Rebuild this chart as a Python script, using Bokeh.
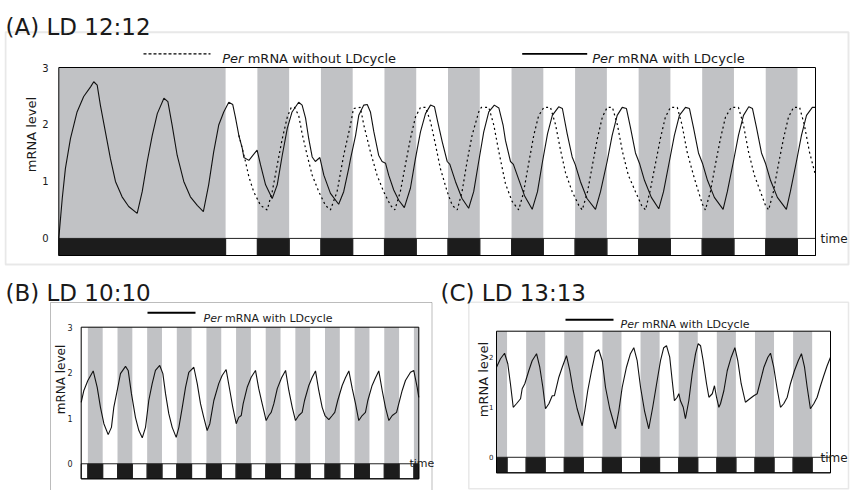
from bokeh.plotting import figure
from bokeh.models import Range1d, FixedTicker, BoxAnnotation, Label, Arrow
from bokeh.layouts import column, row
from bokeh.embed import file_html
from bokeh.resources import INLINE

# ---------------- data ----------------
# Panel A: LD 12:12 (time in hours)
A_t_with = [0, 1.3, 2.5, 4.4, 6.9, 9.4, 12.0, 13.2, 14.5, 15.7, 17.6, 19.5, 21.4, 23.9, 26.4, 29.6,
            31.5, 33.4, 35.3, 37.2, 39.7, 41.2, 42.8, 44.7, 47.2, 49.7, 52.3, 54.6, 56.6, 58.5, 60.4,
            62.3, 64.2, 65.7, 66.7, 68.0, 69.3, 69.9, 71.8, 74.9, 76.2, 78.1, 80.6, 82.5, 84.4, 86.3,
            88.1, 90.6, 91.9, 93.2, 94.4, 95.7, 96.9, 98.6, 100.1, 102.6, 105.7, 107.6, 109.5, 110.2,
            112.1, 113.3, 115.2, 116.5, 117.7, 119.0, 120.8, 122.1, 123.4, 124.6, 126.5, 128.4, 130.5,
            132.8, 134.7, 136.6, 138.5, 140.4, 141.9, 143.1, 144.8, 146.7, 147.7, 149.8, 152.3, 154.8,
            156.7, 158.6, 160.5, 162.4, 164.5, 166.2, 167.8, 168.7, 170.6, 171.7, 173.6, 175.9, 178.8,
            180.8, 182.7, 184.6, 186.4, 188.8, 190.2, 192.0, 193.9, 195.1, 197.0, 199.5, 202.7, 204.6,
            207.1, 209.0, 210.9, 212.8, 214.4, 215.9, 217.8, 219.3, 221.2, 223.8, 226.6, 228.4, 230.6,
            232.5, 234.4, 236.7, 238.2, 239.7, 241.6, 243.1, 245.0, 247.6, 250.9, 252.5, 254.8, 256.7,
            258.6, 260.6, 262.0, 263.5, 265.4, 266.9, 268.8, 271.4, 274.8, 276.3, 278.6, 280.5, 282.4,
            284.6, 285.8]
A_v_with = [0.00, 0.70, 1.23, 1.75, 2.22, 2.49, 2.66, 2.75, 2.69, 2.34, 1.87, 1.40, 1.00, 0.73, 0.56, 0.44,
            0.82, 1.35, 1.81, 2.19, 2.46, 2.40, 1.99, 1.46, 1.00, 0.73, 0.58, 0.47, 0.94, 1.52, 1.99,
            2.22, 2.39, 2.35, 2.13, 1.81, 1.58, 1.42, 1.37, 1.55, 1.29, 0.94, 0.70, 0.94, 1.46, 1.93,
            2.22, 2.39, 2.34, 2.11, 1.75, 1.43, 1.35, 1.42, 1.11, 0.79, 0.60, 0.82, 1.23, 1.40,
            1.81, 2.16, 2.34, 2.35, 2.22, 1.87, 1.46, 1.35, 1.32, 1.11, 0.85, 0.67, 0.54,
            0.88, 1.40, 1.87, 2.19, 2.34, 2.31, 2.05, 1.70, 1.35, 1.30, 1.00, 0.70, 0.53,
            0.82, 1.35, 1.87, 2.22, 2.34, 2.29, 1.99, 1.72, 1.35, 1.30, 1.05, 0.75, 0.51,
            0.82, 1.35, 1.84, 2.16, 2.31, 2.28, 1.84, 1.43, 1.29, 1.00, 0.70, 0.51, 0.82,
            1.35, 1.81, 2.16, 2.30, 2.28, 1.95, 1.50, 1.32, 1.02, 0.72, 0.52, 0.82, 1.35,
            1.81, 2.16, 2.30, 2.28, 1.95, 1.50, 1.32, 1.02, 0.72, 0.51, 0.82, 1.35, 1.81,
            2.16, 2.31, 2.28, 1.95, 1.50, 1.32, 1.02, 0.72, 0.51, 0.82, 1.35, 1.81, 2.16,
            2.30, 2.30]
A_t_without = [68.0, 69.3, 70.5, 71.8, 73.6, 76.2, 78.7, 80.6, 82.5, 84.4, 86.3, 87.8, 89.0, 90.6, 91.9,
               93.8, 95.7, 98.2, 100.7, 102.6, 105.1, 107.6, 110.2, 111.3, 113.9, 115.2, 117.7, 120.2,
               122.7, 125.3, 126.9, 129.0, 130.9, 132.8, 134.7, 136.6, 138.5, 140.4, 142.3, 144.1,
               146.7, 148.6, 150.5, 152.3, 154.2, 156.1, 158.6, 159.6, 162.4, 164.3, 166.2, 168.7,
               171.2, 173.7, 175.5, 177.4, 179.4, 181.2, 183.2, 185.7, 187.6, 189.5, 191.4, 193.9,
               196.4, 197.7, 199.7, 201.6, 203.4, 205.3, 207.1, 209.1, 211.0, 212.9, 215.1, 217.8,
               220.1, 221.6, 223.4, 225.3, 227.2, 229.1, 231.0, 233.6, 235.4, 237.3, 239.7, 241.6,
               243.1, 244.2, 246.1, 248.0, 249.9, 251.8, 254.0, 256.7, 258.6, 260.5, 262.7, 265.0,
               266.9, 268.1, 269.9, 271.8, 273.7, 275.6, 277.5, 279.8, 281.6, 283.5, 285.8]
A_v_without = [1.81, 1.58, 1.35, 1.08, 0.82, 0.58, 0.50, 0.82, 1.29, 1.75, 2.13, 2.30, 2.30, 2.16, 1.84,
               1.46, 1.11, 0.82, 0.58, 0.50, 0.82, 1.46, 2.00, 2.28, 2.30, 1.99, 1.52, 1.11,
               0.82, 0.58, 0.50, 0.82, 1.29, 1.75, 2.13, 2.30, 2.30, 2.05, 1.64, 1.23,
               0.82, 0.58, 0.50, 0.82, 1.35, 1.81, 2.22, 2.30, 2.30, 1.99, 1.52, 0.96,
               0.65, 0.50, 0.80, 1.30, 1.81, 2.15, 2.30, 2.30, 2.00, 1.55, 1.15, 0.82,
               0.58, 0.50, 0.82, 1.30, 1.75, 2.13, 2.30, 2.30, 1.99, 1.52, 1.11, 0.82,
               0.58, 0.50, 0.85, 1.30, 1.75, 2.13, 2.30, 2.30, 1.99, 1.52, 1.11, 0.82,
               0.60, 0.50, 0.82, 1.30, 1.75, 2.13, 2.30, 2.30, 1.99, 1.52, 1.11, 0.82,
               0.58, 0.50, 0.82, 1.30, 1.75, 2.13, 2.30, 2.30, 1.99, 1.52, 1.11]
A_dark_start = [0, 75, 99, 123, 147, 171, 195, 219, 243, 267]
A_dark_end = [63, 87, 111, 135, 159, 183, 207, 231, 255, 279]
A_light_start = [63, 87, 111, 135, 159, 183, 207, 231, 255, 279]
A_light_end = [75, 99, 123, 147, 171, 195, 219, 243, 267, 285.8]
A_time_max = 285.8
A_ymin, A_ymax = -0.3, 3.0
A_yticks = [0, 1, 2, 3]

# Panel B: LD 10:10
B_t = [0, 1.8, 4.5, 8.1, 10.8, 13.0, 15.3, 18.2, 20.4, 22.0, 24.3, 26.5, 29.9, 31.7, 33.9, 36.6, 38.9,
       41.2, 43.4, 45.6, 47.9, 50.1, 53.0, 55.1, 56.9, 59.1, 61.4, 64.1, 65.9, 68.2, 70.4, 72.6, 76.0,
       78.3, 80.5, 82.7, 85.0, 86.8, 89.5, 92.8, 95.1, 97.8, 100.3, 102.3, 104.6, 106.3, 108.0, 109.3,
       112.0, 114.7, 117.6, 119.8, 122.1, 124.8, 126.6, 128.2, 130.0, 132.3, 135.2, 137.9, 140.1,
       142.4, 144.6, 146.8, 149.1, 150.7, 153.6, 155.9, 158.1, 160.3, 162.6, 164.6, 167.1, 169.4,
       171.1, 173.1, 176.1, 178.3, 180.6, 182.9, 185.1, 187.3, 189.6, 191.8, 193.4, 196.3, 198.6,
       200.8, 203.1, 205.3, 207.6, 209.9, 212.8, 214.3, 216.6, 218.8, 222.2, 224.4, 226.7, 227.8]
B_v = [1.35, 1.61, 1.83, 2.04, 1.68, 1.24, 0.88, 0.64, 0.80, 1.24, 1.61, 1.98, 2.14, 2.05, 1.54, 1.02, 0.73,
       0.57, 0.80, 1.39, 1.76, 2.05, 2.16, 1.98, 1.54, 1.10, 0.80, 0.58, 0.80, 1.24, 1.68, 2.01, 2.12,
       1.76, 1.32, 1.02, 0.73, 0.88, 1.39, 1.76, 1.94, 2.07, 1.61, 1.24, 0.88, 1.02, 1.06, 1.32,
       1.68, 1.90, 2.05, 1.65, 1.32, 0.95, 1.06, 1.13, 1.32, 1.65, 1.89, 2.05, 1.61,
       1.24, 0.95, 1.06, 1.13, 1.39, 1.72, 1.90, 2.04, 1.61, 1.24, 1.05, 0.97, 1.06,
       1.13, 1.39, 1.72, 1.89, 2.04, 1.65, 1.32, 0.95, 1.06, 1.13, 1.39, 1.72, 1.89,
       2.04, 1.61, 1.24, 0.95, 1.06, 1.13, 1.32, 1.61, 1.83, 2.01, 2.05, 1.68, 1.46]
B_dark_start = [4.5, 24.5, 44.5, 64.5, 84.5, 104.5, 124.5, 144.5, 164.5, 184.5, 204.5, 224.5]
B_dark_end = [14.5, 34.5, 54.5, 74.5, 94.5, 114.5, 134.5, 154.5, 174.5, 194.5, 214.5, 227.8]
B_light_start = [0, 14.5, 34.5, 54.5, 74.5, 94.5, 114.5, 134.5, 154.5, 174.5, 194.5, 214.5]
B_light_end = [4.5, 24.5, 44.5, 64.5, 84.5, 104.5, 124.5, 144.5, 164.5, 184.5, 204.5, 224.5]
B_time_max = 227.8
B_ymin, B_ymax = -0.33, 3.0
B_yticks = [0, 1, 2, 3]

# Panel C: LD 13:13
C_t = [0, 2.7, 5.5, 7.7, 9.5, 11.4, 13.6, 16.4, 17.5, 19.3, 22.0, 24.3, 27.3, 29.5, 31.6, 33.4, 35.7,
       38.0, 39.5, 42.5, 44.8, 47.7, 50.0, 52.3, 55.0, 58.4, 60.2, 62.2, 64.6, 67.5, 69.7, 72.1, 74.3,
       77.2, 81.1, 83.4, 85.7, 88.6, 91.3, 93.6, 95.9, 98.2, 100.9, 103.8, 106.5, 109.5, 111.8, 114.0,
       115.9, 118.1, 119.8, 121.3, 123.2, 124.3, 125.4, 127.3, 128.8, 131.1, 133.4, 135.7, 137.5,
       139.1, 140.9, 143.2, 144.8, 147.1, 148.6, 150.0, 151.6, 152.7, 155.0, 157.3, 160.0, 162.5,
       164.5, 166.8, 169.7, 172.7, 175.4, 177.7, 180.0, 182.3, 185.0, 186.8, 189.0, 191.3, 193.6,
       195.8, 198.2, 200.4, 203.1, 205.7, 207.9, 210.0, 211.8, 214.0, 216.3, 218.6, 220.9, 223.1,
       225.4, 227.7]
C_v = [1.80, 1.97, 2.08, 1.87, 1.47, 1.00, 1.07, 1.17, 1.37, 1.47, 1.73, 1.93, 2.07, 1.80, 1.40, 0.97, 1.07,
       1.23, 1.23, 1.60, 1.80, 2.03, 1.73, 1.33, 0.97, 0.63, 0.93, 1.33, 1.70, 2.10, 2.15, 1.93, 1.40,
       0.97, 0.57, 0.93, 1.40, 1.80, 2.07, 2.19, 1.93, 1.40, 0.93, 0.57, 1.00, 1.53, 1.93, 2.19,
       2.23, 2.00, 1.53, 1.13, 1.20, 1.27, 1.13, 1.00, 0.77, 1.13, 1.67, 2.07, 2.27,
       2.23, 1.93, 1.47, 1.20, 1.27, 1.43, 1.20, 1.00, 1.07, 1.33, 1.73, 2.00, 2.19,
       1.93, 1.47, 1.10, 1.17, 1.23, 1.27, 1.53, 1.80, 2.00, 2.08, 1.80, 1.37, 1.00,
       1.07, 1.20, 1.47, 1.73, 1.93, 2.07, 1.80, 1.40, 0.97, 1.07, 1.20, 1.43, 1.63,
       1.83, 2.00]
C_dark_start = [0, 20.2, 46.2, 72.2, 98.2, 124.2, 150.2, 176.2, 202.2]
C_dark_end = [7.2, 33.2, 59.2, 85.2, 111.2, 137.2, 163.2, 189.2, 215.2]
C_light_start = [7.2, 33.2, 59.2, 85.2, 111.2, 137.2, 163.2, 189.2, 215.2]
C_light_end = [20.2, 46.2, 72.2, 98.2, 124.2, 150.2, 176.2, 202.2, 227.7]
C_time_max = 227.7
C_ymin, C_ymax = -0.31, 2.52
C_yticks = [0, 1, 2]

# ---------------- styling / layout ----------------
FONT = "DejaVu Sans"
TXT = "#1a1a1a"
BAND = "#c1c2c5"
W, H = 852, 490
HA = 268            # height of panel A canvas
WB = 434            # width of panel B canvas
HB = H - HA
WC = W - WB
LB = 4              # thin left border that carries the y axis


def make_panel(ox, oy, w, h, inner, xmax, ymin, ymax, ticks, ds, de, ls, le,
               tick_fs, lab_fs, tick_sd, lab_sd):
    # inner = plot box in page pixels (left, right, top, bottom); frame = whole canvas but LB
    il, ir, it, ib = inner[0] - ox, inner[1] - ox, inner[2] - oy, inner[3] - oy
    fl, fr, ft, fb = LB, w, 0, h
    kx = xmax / (ir - il)
    ky = (ymax - ymin) / (ib - it)
    xr = Range1d(-(il - fl) * kx, xmax + (fr - ir) * kx)
    yr = Range1d(ymin - (fb - ib) * ky, ymax + (it - ft) * ky)
    p = figure(width=w, height=h, x_range=xr, y_range=yr,
               x_axis_location=None, toolbar_location=None, output_backend="svg",
               min_border_left=LB, min_border_right=0, min_border_top=0,
               min_border_bottom=0, background_fill_color="white",
               border_fill_color="white")
    p.grid.visible = False
    p.outline_line_color = None
    ax = p.yaxis[0]
    ax.ticker = FixedTicker(ticks=ticks)
    ax.axis_label = "mRNA level"
    ax.axis_line_color = None
    ax.major_tick_line_color = None
    ax.minor_tick_line_color = None
    ax.major_label_text_font = FONT
    ax.major_label_text_font_size = f"{tick_fs}px"
    ax.major_label_text_color = TXT
    ax.major_label_standoff = tick_sd
    ax.axis_label_text_font = FONT
    ax.axis_label_text_font_size = f"{lab_fs}px"
    ax.axis_label_text_font_style = "normal"
    ax.axis_label_text_color = TXT
    ax.axis_label_standoff = lab_sd
    # shading for dark phases and the light/dark bar under the plot
    p.quad(left=ds, right=de, bottom=0, top=ymax, fill_color=BAND, line_color=None)
    p.quad(left=ls, right=le, bottom=ymin, top=0, fill_color="white",
           line_color="#222222", line_width=1)
    p.quad(left=ds, right=de, bottom=ymin, top=0, fill_color="#1c1c1c",
           line_color="#222222", line_width=1)
    return p


def outline(p, xmax, ymin, ymax):
    p.quad(left=[0], right=[xmax], bottom=[ymin], top=[ymax], fill_color=None,
           line_color="black", line_width=1)


def label(p, ox, oy, rx, ry, text, size, style="normal"):
    p.add_layout(Label(x=rx - ox, y=ry - oy, x_units="canvas", y_units="canvas",
                       text=text, text_font=FONT, text_font_size=f"{size}px",
                       text_font_style=style, text_align="left",
                       text_baseline="alphabetic", text_color=TXT))


def box(p, ox, oy, l, r, t, b, color, width):
    p.add_layout(BoxAnnotation(left=l - ox, right=r - ox, top=t - oy, bottom=b - oy,
                               left_units="canvas", right_units="canvas",
                               top_units="canvas", bottom_units="canvas",
                               fill_color=None, line_color=color, line_width=width))


def legend_line(p, ox, oy, rx0, rx1, ry, dash, width):
    p.add_layout(Arrow(x_start=rx0 - ox, y_start=ry - oy, x_end=rx1 - ox, y_end=ry - oy,
                       start_units="canvas", end_units="canvas", end=None,
                       line_color="black", line_width=width, line_dash=dash))


def legend_text(p, ox, oy, rx, ry, rest, size, per_w):
    label(p, ox, oy, rx, ry, "Per", size, style="italic")
    label(p, ox, oy, rx + per_w, ry, rest, size)


# ---------------- Panel A ----------------
pA = make_panel(0, 0, W, HA, (58.3, 815, 67, 255), A_time_max, A_ymin, A_ymax, A_yticks,
                A_dark_start, A_dark_end, A_light_start, A_light_end, 10, 13, -50, 0)
pA.line(A_t_without, A_v_without, line_color="black", line_width=1.2, line_dash="2 3")
pA.line(A_t_with, A_v_with, line_color="#111111", line_width=1.1)
outline(pA, A_time_max, A_ymin, A_ymax)
box(pA, 0, 0, 5, 848, 31.7, 264, "#b3b3b3", 2)
label(pA, 0, 0, 5, 26, "(A) LD 12:12", 23)
legend_line(pA, 0, 0, 143, 210, 53.3, "3 2", 1.2)
legend_text(pA, 0, 0, 221.7, 57.5, "mRNA without LDcycle", 13, 25.5)
legend_line(pA, 0, 0, 521.7, 586.7, 53.3, "solid", 1.8)
legend_text(pA, 0, 0, 591.7, 57.5, "mRNA with LDcycle", 13, 25.5)
label(pA, 0, 0, 820, 238, "time", 12)

# ---------------- Panel B ----------------
pB = make_panel(0, HA, WB, HB, (80.7, 418.3, 326.7, 478.3), B_time_max, B_ymin, B_ymax, B_yticks,
                B_dark_start, B_dark_end, B_light_start, B_light_end, 8, 12, -74, -4)
pB.line(B_t, B_v, line_color="#111111", line_width=1.1)
outline(pB, B_time_max, B_ymin, B_ymax)
box(pB, 0, HA, 50, 431.5, 302, H + 20, "#222222", 1)
label(pB, 0, HA, 5, 292, "(B) LD 10:10", 23)
legend_line(pB, 0, HA, 147, 195, 312.3, "solid", 2)
legend_text(pB, 0, HA, 203, 317.5, "mRNA with LDcycle", 11, 21.5)
label(pB, 0, HA, 409, 463, "time", 11)

# ---------------- Panel C ----------------
pC = make_panel(WB, HA, WC, HB, (496, 830, 330.7, 472.3), C_time_max, C_ymin, C_ymax, C_yticks,
                C_dark_start, C_dark_end, C_light_start, C_light_end, 7, 13, -61, -5)
pC.line(C_t, C_v, line_color="#111111", line_width=1.1)
outline(pC, C_time_max, C_ymin, C_ymax)
box(pC, WB, HA, 468.3, 848, 301.7, 488.3, "#b3b3b3", 1.5)
label(pC, WB, HA, 440, 292, "(C) LD 13:13", 23)
legend_line(pC, WB, HA, 565, 613, 319.3, "solid", 2)
legend_text(pC, WB, HA, 620, 323.5, "mRNA with LDcycle", 11, 21.5)
label(pC, WB, HA, 820, 457, "time", 12)

layout = column(pA, row(pB, pC))
open("out.html", "w").write(file_html(layout, INLINE, title="Per mRNA"))
